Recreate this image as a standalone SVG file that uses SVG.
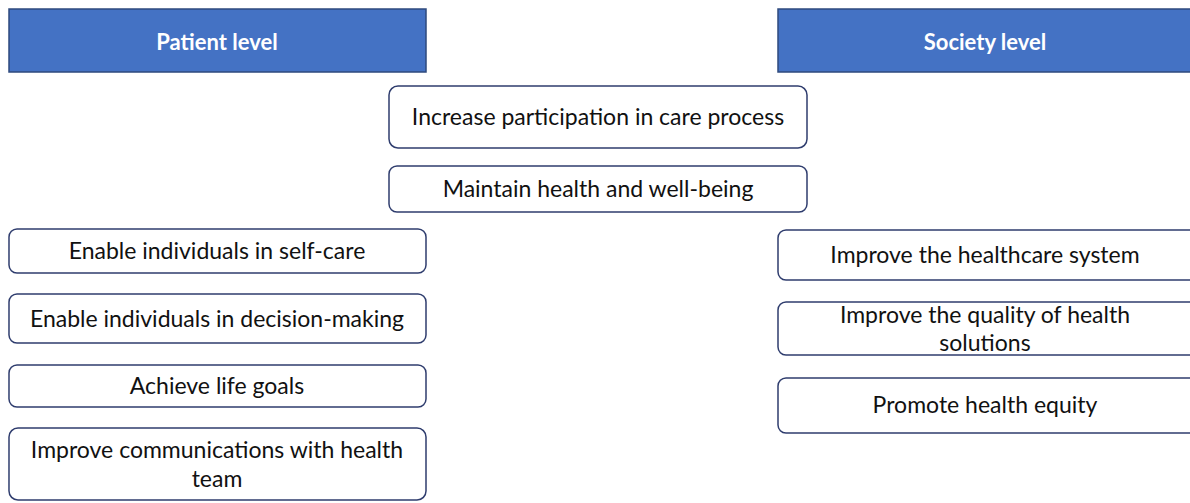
<svg xmlns="http://www.w3.org/2000/svg" width="1190" height="503" viewBox="0 0 1190 503">
<style>
.hdr{fill:#4472C4;stroke:#2E4A7D;stroke-width:1.5}
.box{fill:#ffffff;stroke:#2F3D6E;stroke-width:1.5}
.ht{font-family:Lato,"Open Sans",sans-serif;font-size:22px;font-weight:bold;fill:#ffffff;text-anchor:middle;dominant-baseline:central}
.t{font-family:Lato,"Open Sans",sans-serif;font-size:23px;fill:#111111;text-anchor:middle;dominant-baseline:central}
</style>
<rect width="1190" height="503" fill="#ffffff"/>
<g id="patient-level"><rect class="hdr" x="9" y="9" width="417" height="63"/><text class="ht" x="217" y="41">Patient level</text></g>
<g id="society-level"><rect class="hdr" x="778" y="9" width="420" height="63"/><text class="ht" x="985" y="41">Society level</text></g>
<g id="increase"><rect class="box" x="389" y="86" width="418" height="62" rx="9"/><text class="t" x="598" y="116">Increase participation in care process</text></g>
<g id="maintain"><rect class="box" x="389" y="166" width="418" height="46" rx="8"/><text class="t" x="598" y="188">Maintain health and well-being</text></g>
<g id="selfcare"><rect class="box" x="9" y="229" width="417" height="44" rx="8"/><text class="t" x="217" y="250">Enable individuals in self-care</text></g>
<g id="decision"><rect class="box" x="9" y="294" width="417" height="49" rx="8"/><text class="t" x="217" y="318">Enable individuals in decision-making</text></g>
<g id="lifegoals"><rect class="box" x="9" y="365" width="417" height="42" rx="8"/><text class="t" x="217" y="385">Achieve life goals</text></g>
<g id="communications"><rect class="box" x="9" y="428" width="417" height="72" rx="9"/><text class="t" x="217" y="449">Improve communications with health</text><text class="t" x="217" y="478">team</text></g>
<g id="healthcare"><rect class="box" x="778" y="230" width="420" height="50" rx="8"/><text class="t" x="985" y="254">Improve the healthcare system</text></g>
<g id="quality"><rect class="box" x="778" y="302" width="420" height="53" rx="8"/><text class="t" x="985" y="314">Improve the quality of health</text><text class="t" x="985" y="342">solutions</text></g>
<g id="equity"><rect class="box" x="778" y="378" width="420" height="55" rx="8"/><text class="t" x="985" y="404">Promote health equity</text></g>
<g id="connectors"></g>
</svg>
